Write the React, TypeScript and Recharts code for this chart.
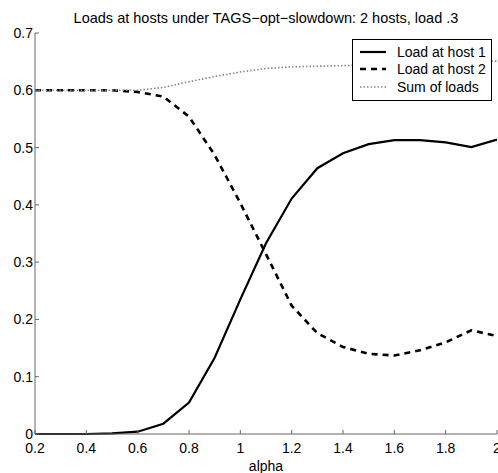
import { LineChart, Line, XAxis, YAxis, Legend, Label } from 'recharts';

const alpha = [0.2, 0.3, 0.4, 0.5, 0.6, 0.7, 0.8, 0.9, 1.0, 1.1, 1.2, 1.3, 1.4, 1.5, 1.6, 1.7, 1.8, 1.9, 2.0];
const host1 = [0, 0, 0, 0.001, 0.004, 0.018, 0.055, 0.133, 0.235, 0.333, 0.411, 0.464, 0.49, 0.506, 0.513, 0.513, 0.509, 0.501, 0.514];
const host2 = [0.6, 0.6, 0.6, 0.6, 0.597, 0.589, 0.554, 0.487, 0.403, 0.314, 0.224, 0.176, 0.152, 0.14, 0.137, 0.146, 0.16, 0.181, 0.171];
const sumLoads = [0.6, 0.6, 0.6, 0.6, 0.6, 0.605, 0.615, 0.624, 0.632, 0.638, 0.641, 0.642, 0.643, 0.645, 0.646, 0.648, 0.649, 0.65, 0.651];

const xTicks = [0.2, 0.4, 0.6, 0.8, 1, 1.2, 1.4, 1.6, 1.8, 2];
const yTicks = [0, 0.1, 0.2, 0.3, 0.4, 0.5, 0.6, 0.7];

const series = [
  { key: 'host1', name: 'Load at host 1', color: '#000', width: 2.2, dash: undefined as string | undefined },
  { key: 'host2', name: 'Load at host 2', color: '#000', width: 2.6, dash: '6 5' },
  { key: 'sum', name: 'Sum of loads', color: '#888', width: 1.6, dash: '1.5 2' },
];

const data = alpha.map((a, i) => ({ alpha: a, host1: host1[i], host2: host2[i], sum: sumLoads[i] }));

const font = '"Liberation Sans", Arial, sans-serif';
const fmt = (v: number) => String(+v.toFixed(1));
const frame = '#666';

const LegendBox = () => (
  <div
    style={{
      border: '1px solid #000',
      background: '#fff',
      width: 138,
      padding: '3px 0 4px 0',
      fontFamily: font,
      fontSize: 14,
      color: '#000',
    }}
  >
    {series.map((s) => (
      <div key={s.key} style={{ display: 'flex', alignItems: 'center', height: 17.5 }}>
        <svg width={38} height={10} style={{ marginLeft: 6 }}>
          <line x1={1} y1={5} x2={27} y2={5} stroke={s.color} strokeWidth={s.width} strokeDasharray={s.dash} />
        </svg>
        <span>{s.name}</span>
      </div>
    ))}
  </div>
);

export default function App() {
  return (
    <div style={{ position: 'absolute', left: 0, top: 0, width: 498, height: 473, overflow: 'hidden', background: '#fff' }}>
      <div
        style={{
          position: 'absolute',
          left: 20,
          width: 492,
          top: 10,
          textAlign: 'center',
          fontFamily: font,
          fontSize: 14.5,
          color: '#000',
        }}
      >
        Loads at hosts under TAGS−opt−slowdown: 2 hosts, load .3
      </div>
      <LineChart width={520} height={473} data={data} margin={{ top: 33, right: 23, bottom: 0, left: 0 }}>
        <XAxis
          dataKey="alpha"
          type="number"
          domain={[0.2, 2]}
          ticks={xTicks}
          tickFormatter={fmt}
          allowDataOverflow
          height={39}
          tickSize={-4}
          tickMargin={13}
          stroke={frame}
          tick={{ fill: '#000', fontSize: 14, fontFamily: font }}
        >
          <Label value="alpha" position="insideBottom" offset={2} style={{ fill: '#000', fontSize: 14, fontFamily: font }} />
        </XAxis>
        <XAxis
          xAxisId="top"
          dataKey="alpha"
          type="number"
          orientation="top"
          domain={[0.2, 2]}
          ticks={xTicks}
          height={0}
          tickSize={-4}
          stroke={frame}
          tick={() => <g />}
        />
        <YAxis
          type="number"
          domain={[0, 0.7]}
          ticks={yTicks}
          tickFormatter={fmt}
          width={35}
          tickSize={-4}
          tickMargin={6}
          stroke={frame}
          tick={{ fill: '#000', fontSize: 14, fontFamily: font }}
        />
        <YAxis
          yAxisId="right"
          orientation="right"
          type="number"
          domain={[0, 0.7]}
          ticks={yTicks}
          width={0}
          tickSize={-4}
          stroke={frame}
          tick={() => <g />}
        />
        <Legend
          layout="vertical"
          verticalAlign="middle"
          align="center"
          content={<LegendBox />}
          wrapperStyle={{ top: 39, left: 352, width: 140 }}
        />
        {series.map((s) => (
          <Line
            key={s.key}
            dataKey={s.key}
            name={s.name}
            stroke={s.color}
            strokeWidth={s.width}
            strokeDasharray={s.dash}
            dot={false}
            isAnimationActive={false}
          />
        ))}
      </LineChart>
    </div>
  );
}
